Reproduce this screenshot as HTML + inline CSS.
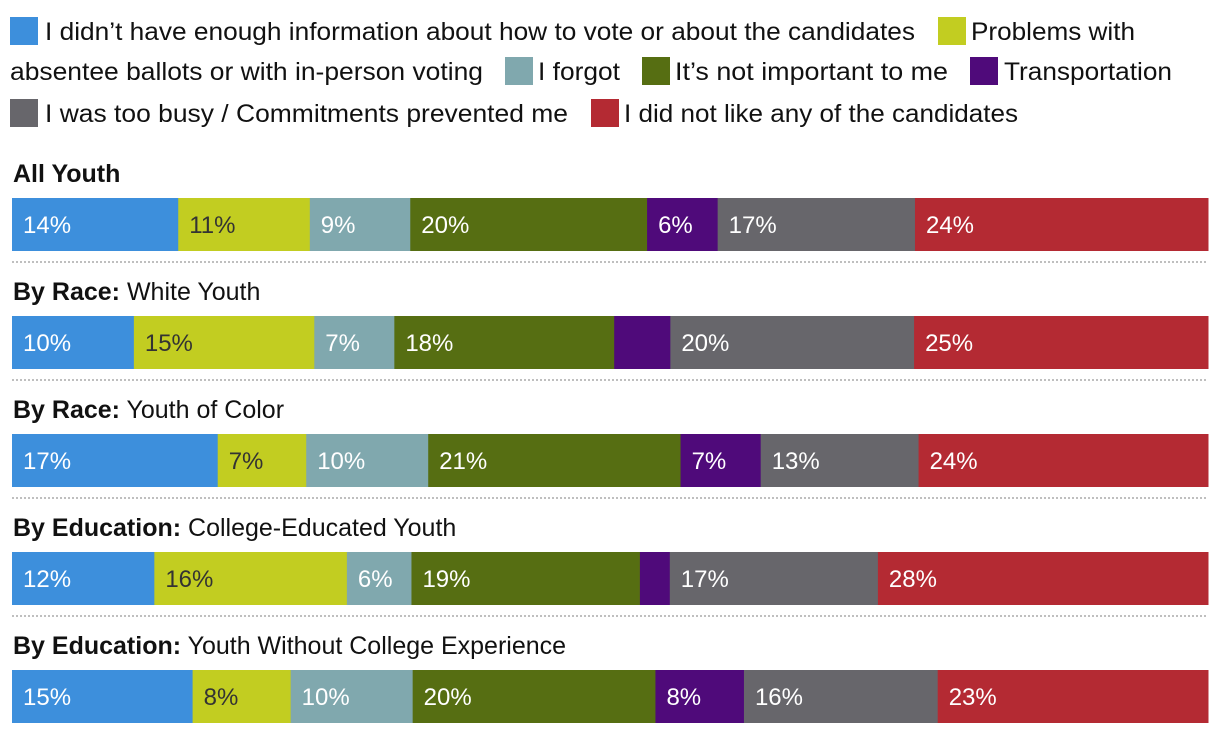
<!DOCTYPE html>
<html><head><meta charset="utf-8"><style>
body{margin:0;background:#fff;}
svg{display:block;font-family:"Liberation Sans",sans-serif;}
</style></head><body>
<svg id="chart" width="1220" height="734" viewBox="0 0 1220 734" xmlns="http://www.w3.org/2000/svg"></svg>
<script>
const categories = ["I didn’t have enough information about how to vote or about the candidates","Problems with absentee ballots or with in-person voting","I forgot","It’s not important to me","Transportation","I was too busy / Commitments prevented me","I did not like any of the candidates"];
const colors = ["#3d8fdc","#c2cd21","#80a8ae","#566e12","#4f0a7a","#67666b","#b42a33"];
const groupsBold = ["All Youth","By Race:","By Race:","By Education:","By Education:"];
const groupsNormal = ["","White Youth","Youth of Color","College-Educated Youth","Youth Without College Experience"];
const rowAll = [13.9,11.0,8.4,19.8,5.9,16.5,24.5];
const rowWhite = [10.2,15.1,6.7,18.4,4.7,20.4,24.6];
const rowColor = [17.2,7.4,10.2,21.1,6.7,13.2,24.2];
const rowCollege = [11.9,16.1,5.4,19.1,2.5,17.4,27.6];
const rowNoCollege = [15.1,8.2,10.2,20.3,7.4,16.2,22.6];
const labelAll = ["14%","11%","9%","20%","6%","17%","24%"];
const labelWhite = ["10%","15%","7%","18%","","20%","25%"];
const labelColor = ["17%","7%","10%","21%","7%","13%","24%"];
const labelCollege = ["12%","16%","6%","19%","","17%","28%"];
const labelNoCollege = ["15%","8%","10%","20%","8%","16%","23%"];
const rows=[rowAll,rowWhite,rowColor,rowCollege,rowNoCollege];
const labels=[labelAll,labelWhite,labelColor,labelCollege,labelNoCollege];
const svg=document.getElementById('chart');
const NS="http://www.w3.org/2000/svg";
function mk(t,a){const e=document.createElementNS(NS,t);for(const k in a)e.setAttribute(k,a[k]);svg.appendChild(e);return e;}
const leg=[[10,45,31,870,"I didn’t have enough information about how to vote or about the candidates"],
[938,971,31,164,"Problems with"],[505,538,71,82,"I forgot"],[642,675,71,273,"It’s not important to me"],
[970,1004,71,168,"Transportation"],[10,45,113,523,"I was too busy / Commitments prevented me"],[591,624,113,394,"I did not like any of the candidates"]];
for(let i=0;i<7;i++){
  const [sx,tx,cy,tw,txt]=leg[i];
  const r=mk('rect',{x:sx,y:cy-14,width:28,height:28,fill:colors[i]});
  
  
  const t=mk('text',{x:tx,y:cy+9,'font-size':25,fill:'#111',textLength:tw,lengthAdjust:'spacingAndGlyphs'});
  t.textContent=txt;
  
  
}
const t2=mk('text',{x:10,y:80,'font-size':25,fill:'#111',textLength:473,lengthAdjust:'spacingAndGlyphs'});
t2.textContent="absentee ballots or with in-person voting";


const X0=12,X1=1208;
for(let r=0;r<5;r++){
  const top=198+118*r;
  const tt=mk('text',{x:13,y:top-16,'font-size':25,fill:'#111'});
  
  
  const b=document.createElementNS(NS,'tspan');b.setAttribute('font-weight','bold');b.textContent=groupsBold[r];tt.appendChild(b);
  if(groupsNormal[r]){const n=document.createElementNS(NS,'tspan');n.textContent=" "+groupsNormal[r];tt.appendChild(n);}
  const vals=rows[r];const tot=vals.reduce((a,b)=>a+b,0);
  let acc=0;
  for(let i=0;i<vals.length;i++){
    const x=X0+(X1-X0)*acc/tot, w=(X1-X0)*vals[i]/tot;
    const rc=mk('rect',{x:x,y:top,width:w+0.5,height:53,fill:colors[i]});
    
    
    if(labels[r][i]){
      const lt=mk('text',{x:x+11,y:top+35,'font-size':24,fill:i==1?'#333':'#fff'});
      lt.textContent=labels[r][i];
      
      
    }
    acc+=vals[i];
  }
  if(r<4){
    const ln=mk('line',{x1:12,x2:1208,y1:top+64,y2:top+64,stroke:'#aaa','stroke-width':1.5,'stroke-dasharray':'2,2'});
    
    
  }
}
</script>
</body></html>
